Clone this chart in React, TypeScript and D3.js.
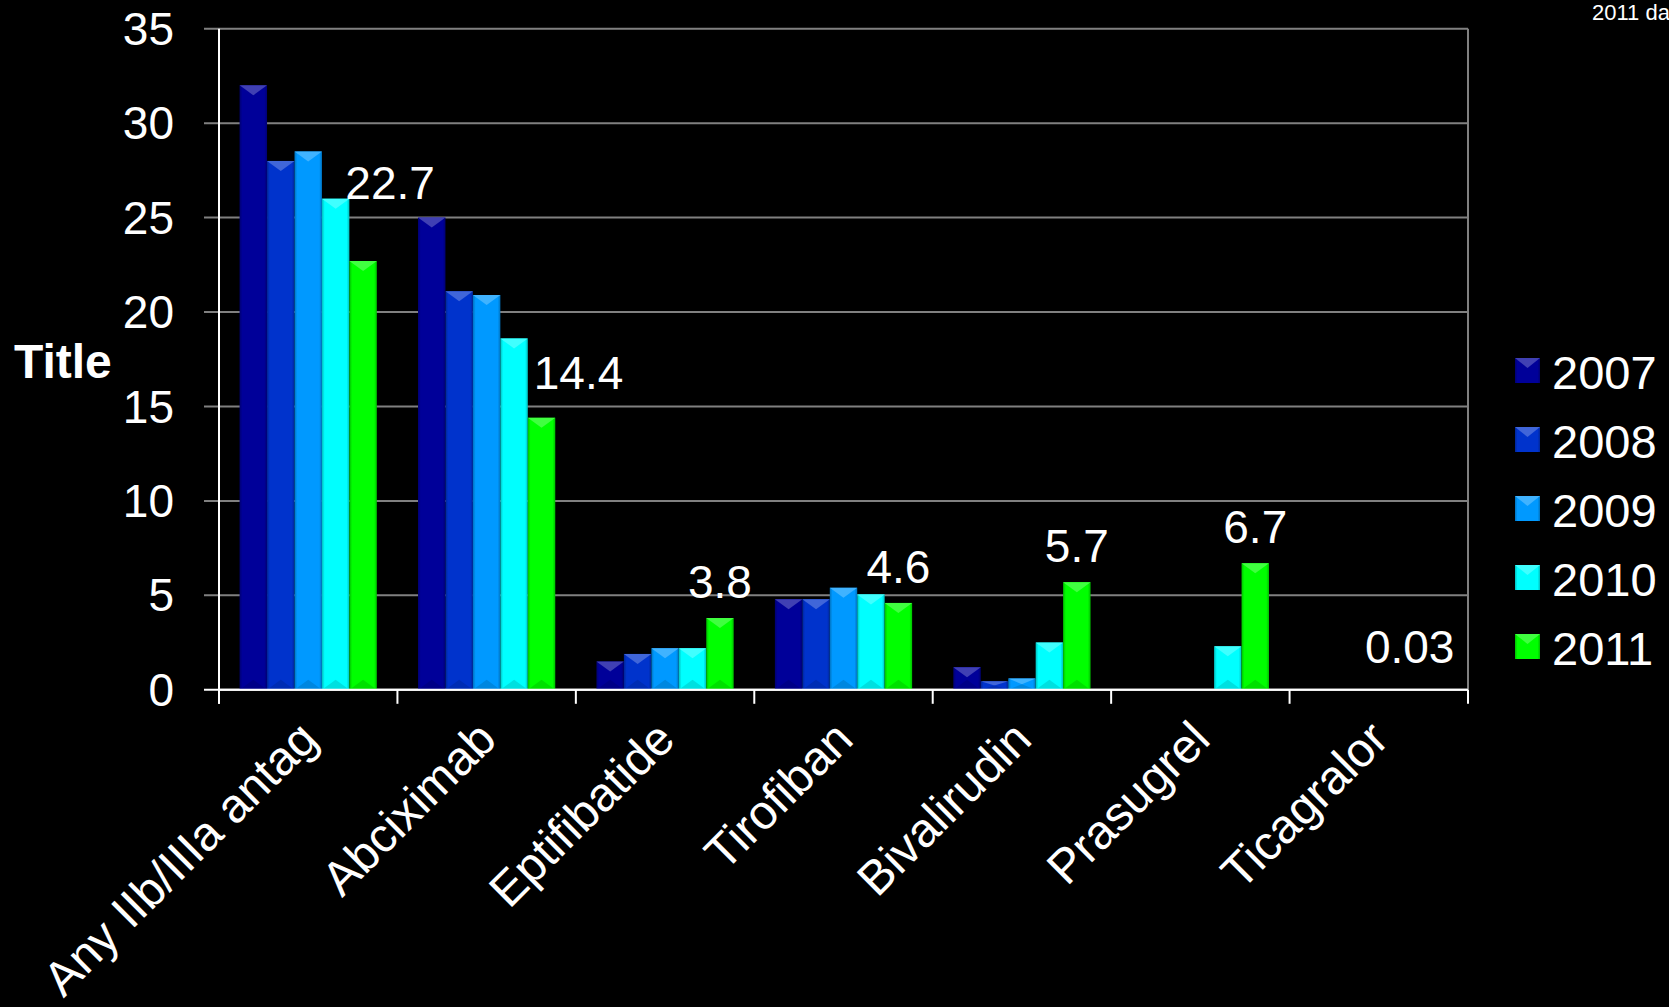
import React from "react";
import * as d3 from "d3";

const categories = [
  "Any IIb/IIIa antag",
  "Abciximab",
  "Eptifibatide",
  "Tirofiban",
  "Bivalirudin",
  "Prasugrel",
  "Ticagralor",
];
const seriesNames = ["2007", "2008", "2009", "2010", "2011"];
const v2007 = [32, 25, 1.5, 4.8, 1.2, null, null];
const v2008 = [28, 21.1, 1.9, 4.8, 0.45, null, null];
const v2009 = [28.5, 20.9, 2.2, 5.4, 0.6, null, null];
const v2010 = [26, 18.6, 2.2, 5.05, 2.5, 2.3, null];
const v2011 = [22.7, 14.4, 3.8, 4.6, 5.7, 6.7, 0.03];
const labels2011 = ["22.7", "14.4", "3.8", "4.6", "5.7", "6.7", "0.03"];
const yTicks = [0, 5, 10, 15, 20, 25, 30, 35];
const seriesColors = ["#000099", "#0033CC", "#0099FF", "#00FFFF", "#00FF00"];

const seriesValues = [v2007, v2008, v2009, v2010, v2011];

// manual nudges of the data labels (as in the original slide)
const labelNudge = [
  [27, -42],
  [37, -9],
  [0, 0],
  [0, 0],
  [0, 0],
  [0, 0],
  [-24, -6],
];

const W = 1669;
const H = 1007;
const plotLeft = 219;
const plotRight = 1468;
const plotTop = 28.7;
const plotBottom = 689.8;
const FONT = "'Liberation Sans', Arial, Helvetica, sans-serif";

export default function App() {
  const x0 = d3.scaleBand<string>().domain(categories).range([plotLeft, plotRight]).padding(0);
  const x1 = d3
    .scaleBand<string>()
    .domain(seriesNames)
    .range([0, x0.bandwidth()])
    .paddingInner(0)
    .paddingOuter(0.75);
  const y = d3.scaleLinear().domain([0, 35]).range([plotBottom, plotTop]);

  const lighten = (c: string, k: number) => d3.interpolateRgb(c, "#ffffff")(k);
  const darken = (c: string, k: number) => d3.interpolateRgb(c, "#000000")(k);

  const bars: React.ReactNode[] = [];
  seriesValues.forEach((vals, si) => {
    vals.forEach((v, ci) => {
      if (v == null) return;
      const bx = (x0(categories[ci]) as number) + (x1(seriesNames[si]) as number);
      const bw = x1.bandwidth();
      const top = y(v);
      const h = plotBottom - top;
      if (h <= 0.2) return;
      const col = seriesColors[si];
      const depth = Math.min(10, h / 2);
      bars.push(
        <g key={`b-${si}-${ci}`}>
          <rect x={bx} y={top} width={bw} height={h} fill={`url(#grad${si})`} />
          <polygon
            points={`${bx},${top} ${bx + bw},${top} ${bx + bw / 2},${top + depth}`}
            fill={lighten(col, 0.25)}
          />
          <polygon
            points={`${bx},${plotBottom} ${bx + bw},${plotBottom} ${bx + bw / 2},${plotBottom - depth}`}
            fill={darken(col, 0.12)}
          />
        </g>
      );
    });
  });

  return (
    <svg
      width={W}
      height={H}
      style={{ position: "absolute", left: 0, top: 0, background: "#000" }}
      fontFamily={FONT}
    >
      <defs>
        {seriesColors.map((c, i) => (
          <linearGradient key={i} id={`grad${i}`} x1="0" x2="1" y1="0" y2="0">
            <stop offset="0" stopColor={darken(c, 0.25)} />
            <stop offset="0.1" stopColor={c} />
            <stop offset="0.9" stopColor={c} />
            <stop offset="1" stopColor={darken(c, 0.25)} />
          </linearGradient>
        ))}
      </defs>
      <rect x={0} y={0} width={W} height={H} fill="#000" />

      {/* gridlines */}
      {yTicks.map((t) => (
        <line
          key={`g${t}`}
          x1={plotLeft - 15}
          x2={plotRight}
          y1={y(t)}
          y2={y(t)}
          stroke={t === 0 ? "#ffffff" : "#808080"}
          strokeWidth={2}
        />
      ))}
      <line x1={plotRight} x2={plotRight} y1={plotTop} y2={plotBottom} stroke="#808080" strokeWidth={2} />

      {bars}

      {/* axes */}
      <line x1={plotLeft} x2={plotLeft} y1={plotTop} y2={plotBottom + 14} stroke="#fff" strokeWidth={2} />
      <line x1={plotLeft} x2={plotRight} y1={plotBottom} y2={plotBottom} stroke="#fff" strokeWidth={2} />
      {categories.map((c, i) => {
        const xx = x0(c) as number;
        return <line key={`xt${i}`} x1={xx} x2={xx} y1={plotBottom} y2={plotBottom + 14} stroke="#fff" strokeWidth={2} />;
      })}
      <line x1={plotRight} x2={plotRight} y1={plotBottom} y2={plotBottom + 14} stroke="#fff" strokeWidth={2} />

      {yTicks.map((t) => (
        <text key={`yl${t}`} x={174} y={y(t)} dy="0.35em" textAnchor="end" fill="#fff" fontSize={46}>
          {t}
        </text>
      ))}

      {categories.map((c, i) => {
        const cx = (x0(c) as number) + x0.bandwidth() / 2;
        const ax = cx + 12;
        const ay = plotBottom + 52;
        return (
          <text
            key={`xl${i}`}
            x={ax}
            y={ay}
            textAnchor="end"
            fill="#fff"
            fontSize={48}
            transform={`rotate(-45 ${ax} ${ay})`}
          >
            {c}
          </text>
        );
      })}

      {/* data labels for 2011 */}
      {v2011.map((v, i) => {
        const cx = (x0(categories[i]) as number) + (x1("2011") as number) + x1.bandwidth() / 2;
        return (
          <text
            key={`dl${i}`}
            x={cx + labelNudge[i][0]}
            y={y(v as number) - 20 + labelNudge[i][1]}
            textAnchor="middle"
            fill="#fff"
            fontSize={46}
          >
            {labels2011[i]}
          </text>
        );
      })}

      {/* axis title */}
      <text x={14} y={378} fill="#fff" fontSize={48} fontWeight="bold">
        Title
      </text>

      {/* legend */}
      {seriesNames.map((s, i) => (
        <g key={`lg${i}`}>
          <rect x={1515} y={358 + i * 69} width={25} height={25} fill={`url(#grad${i})`} />
          <polygon
            points={`${1515},${358 + i * 69} ${1540},${358 + i * 69} ${1527.5},${368 + i * 69}`}
            fill={lighten(seriesColors[i], 0.25)}
          />
          <text x={1552} y={389 + i * 69} fill="#fff" fontSize={47}>
            {s}
          </text>
        </g>
      ))}

      <text x={1592} y={20} fill="#fff" fontSize={22}>
        2011 data
      </text>
    </svg>
  );
}
